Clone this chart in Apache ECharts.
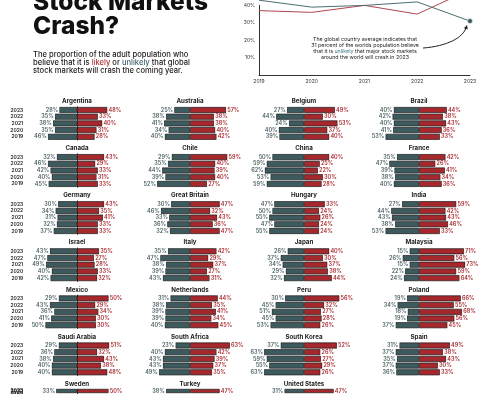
<!DOCTYPE html>
<html><head><meta charset="utf-8">
<script src="https://cdn.jsdelivr.net/npm/echarts@6/dist/echarts.min.js"></script>
<style>html,body{margin:0;padding:0;background:#fff}#c{width:500px;height:394px}</style>
</head><body><div id="c"></div>
<script>
// ---- data ----
const years = ['2023', '2022', '2021', '2020', '2019'];
const countries = ['Argentina','Australia','Belgium','Brazil','Canada','Chile','China','France',
  'Germany','Great Britain','Hungary','India','Israel','Italy','Japan','Malaysia',
  'Mexico','Netherlands','Peru','Poland','Saudi Arabia','South Africa','South Korea','Spain',
  'Sweden','Turkey','United States'];
// values listed 2023, 2022, 2021, 2020, 2019 (null = not visible in the picture)
const unlikelyByCountry = [
  [28,35,38,35,46],[25,38,41,34,40],[27,44,24,40,39],[40,42,40,41,53],
  [32,46,42,40,45],[29,35,44,39,52],[50,59,62,53,59],[35,47,39,38,40],
  [30,34,31,32,37],[30,46,33,36,32],[47,50,55,47,55],[27,44,43,38,53],
  [43,47,49,40,42],[35,47,38,39,43],[26,37,34,29,32],[15,26,15,22,24],
  [29,43,36,41,50],[31,38,39,39,40],[30,45,51,45,53],[19,34,18,19,37],
  [29,36,38,40,40],[23,40,43,43,49],[37,63,59,55,63],[31,37,35,37,36],
  [33,null,null,null,null],[38,null,null,null,null],[31,null,null,null,null]
];
const likelyByCountry = [
  [48,33,40,31,28],[57,38,38,40,42],[49,30,53,37,40],[44,38,43,36,33],
  [43,29,33,31,33],[59,40,39,40,27],[40,25,22,30,28],[42,26,41,34,36],
  [43,35,41,33,33],[47,32,43,36,47],[33,24,26,24,24],[59,42,43,46,33],
  [35,27,28,33,32],[42,29,37,27,31],[40,30,37,38,44],[71,56,73,59,64],
  [50,29,34,30,30],[44,35,41,34,45],[56,32,27,28,26],[66,55,68,56,45],
  [51,32,43,38,48],[63,42,39,37,35],[52,26,27,29,26],[49,38,43,30,33],
  [50,null,null,null,null],[47,null,null,null,null],[47,null,null,null,null]
];
const trendYears = ['2019','2020','2021','2022','2023'];
const trendUnlikely = [43, 39, 40, 42, 31];
const trendLikely = [37, 36, 40, 35, 49];
const trendTicks = [0, 10, 20, 30, 40];

// ---- style ----
const TEAL = '#3d5b5f', RED = '#a6282d', INK = '#1b1b1b';
const FONT = 'Inter, "Noto Sans", sans-serif';
const colCenters = [77, 190, 304, 419];
const pxPerPct = 0.635, halfRange = 80;
const grids = [], xAxes = [], yAxes = [], series = [], graphics = [];

// line chart (index 0)
grids.push({left: 259, right: 30, top: 5.4, bottom: 319});
xAxes.push({type: 'category', gridIndex: 0, data: trendYears, boundaryGap: false,
  axisLine: {lineStyle: {color: '#333', width: 1}}, axisTick: {show: false},
  axisLabel: {fontSize: 5, color: '#333', margin: 4, fontFamily: FONT}});
yAxes.push({type: 'value', gridIndex: 0, min: trendTicks[0], max: trendTicks[trendTicks.length-1], interval: 10,
  axisLine: {show: true, lineStyle: {color: '#333', width: 1}}, axisTick: {show: false}, splitLine: {show: false},
  axisLabel: {fontSize: 5, color: '#333', margin: 4, showMinLabel: false, fontFamily: FONT, formatter: v => v + '%'}});
series.push({type: 'line', xAxisIndex: 0, yAxisIndex: 0, data: trendLikely, symbol: 'none', clip: false,
  lineStyle: {color: '#b0474d', width: 1}, silent: true});
series.push({type: 'line', xAxisIndex: 0, yAxisIndex: 0, symbol: 'none', showSymbol: true, clip: false,
  data: trendUnlikely.map((v, i) => i === trendUnlikely.length - 1 ? {value: v, symbol: 'circle', symbolSize: 5, itemStyle: {color: '#3d5b5f', borderColor: '#fff', borderWidth: 0.5}} : v),
  lineStyle: {color: '#4d6e72', width: 1}, silent: true});

// small multiples
countries.forEach((name, k) => {
  const row = Math.floor(k / 4), col = k % 4;
  const cx = colCenters[col];
  const ty = 101.3 + 47.1 * row;
  const gi = k + 1;
  const w = halfRange * 2 * pxPerPct;
  grids.push({left: cx - w / 2, width: w, top: ty + 5.35, height: 33.5});
  xAxes.push({type: 'value', gridIndex: gi, min: -halfRange, max: halfRange, show: false});
  yAxes.push({type: 'category', gridIndex: gi, data: years, inverse: true,
    axisLine: {show: col === 0, lineStyle: {color: '#333', width: 1}}, axisTick: {show: false},
    axisLabel: {show: col === 0, interval: 0, fontSize: 5, fontWeight: 600, color: '#222', margin: 3, fontFamily: FONT}});
  const common = {type: 'bar', xAxisIndex: gi, yAxisIndex: gi, barWidth: 6, barGap: '-100%', silent: true};
  series.push(Object.assign({}, common, {
    data: unlikelyByCountry[k].map(v => v == null ? null : -v),
    itemStyle: {color: TEAL, borderColor: INK, borderWidth: 0.7},
    label: {show: true, position: 'left', distance: 0, formatter: p => Math.abs(p.value) + '%',
      fontSize: 5.5, fontWeight: 600, color: '#4a5f62', backgroundColor: '#fff', padding: [0, 1], fontFamily: FONT}
  }));
  series.push(Object.assign({}, common, {
    data: likelyByCountry[k],
    itemStyle: {color: RED, borderColor: INK, borderWidth: 0.7},
    label: {show: true, position: 'right', distance: 0, formatter: p => p.value + '%',
      fontSize: 5.5, fontWeight: 600, color: RED, backgroundColor: '#fff', padding: [0, 1], fontFamily: FONT}
  }));
  graphics.push({type: 'text', x: cx, y: ty, silent: true,
    style: {text: name, fontSize: 6.2, fontWeight: 700, fill: '#222', align: 'center', verticalAlign: 'middle', fontFamily: FONT}});
});

// headings
graphics.push({type: 'text', x: 33, y: 2.5, style: {text: 'Stock Markets', fontSize: 24.5, fontWeight: 800, fill: '#111', verticalAlign: 'middle', fontFamily: FONT}});
graphics.push({type: 'text', x: 33, y: 27, style: {text: 'Crash?', fontSize: 24.5, fontWeight: 800, fill: '#111', verticalAlign: 'middle', fontFamily: FONT}});
graphics.push({type: 'text', x: 33, y: 51, style: {
  text: 'The proportion of the adult population who\nbelieve that it is {l|likely} or {u|unlikely} that global\nstock markets will crash the coming year.',
  fontSize: 7.6, fontWeight: 500, lineHeight: 7.8, fill: '#1c1c1c', verticalAlign: 'top', fontFamily: FONT,
  rich: {l: {fill: '#b0323a', fontSize: 7.6, fontWeight: 500, fontFamily: FONT, lineHeight: 7.8},
         u: {fill: '#3f6670', fontSize: 7.6, fontWeight: 500, fontFamily: FONT, lineHeight: 7.8}}}});
graphics.push({type: 'text', x: 365, y: 35.9, style: {
  text: 'The global country average indicates that\n31 percent of the worlds population believe\nthat it is {u|unlikely} that major stock markets\naround the world will crash in 2023',
  fontSize: 5.3, lineHeight: 6.2, fill: '#222', align: 'center', verticalAlign: 'top', fontFamily: FONT,
  rich: {u: {fill: '#3f7a86', fontSize: 5.3, lineHeight: 6.2, fontFamily: FONT}}}});

const chart = echarts.init(document.getElementById('c'), null, {renderer: 'canvas'});
chart.setOption({
  backgroundColor: '#fff', animation: false,
  grid: grids, xAxis: xAxes, yAxis: yAxes, series: series, graphic: graphics
});

// annotation arrow pointing at the 2023 "unlikely" point
const dot = chart.convertToPixel({xAxisIndex: 0, yAxisIndex: 0}, [trendYears[4], trendUnlikely[4]]);
const end = [dot[0] - 3, dot[1] + 4];
const start = [dot[0] - 47, dot[1] + 27];
const cp1 = [start[0] + 24, start[1] - 2];
const cp2 = [end[0] - 4, end[1] + 13];
let dx = end[0] - cp2[0], dy = end[1] - cp2[1];
const len = Math.hypot(dx, dy); dx /= len; dy /= len;
const nx = -dy, ny = dx;
graphics.push({type: 'bezierCurve', silent: true,
  shape: {x1: start[0], y1: start[1], x2: end[0] - dx * 2, y2: end[1] - dy * 2, cpx1: cp1[0], cpy1: cp1[1], cpx2: cp2[0], cpy2: cp2[1]},
  style: {stroke: '#222', lineWidth: 1, fill: null}});
graphics.push({type: 'polygon', silent: true,
  shape: {points: [[end[0], end[1]], [end[0] - dx * 4 + nx * 2, end[1] - dy * 4 + ny * 2], [end[0] - dx * 4 - nx * 2, end[1] - dy * 4 - ny * 2]]},
  style: {fill: '#222'}});
chart.setOption({graphic: graphics});
</script>
</body></html>
